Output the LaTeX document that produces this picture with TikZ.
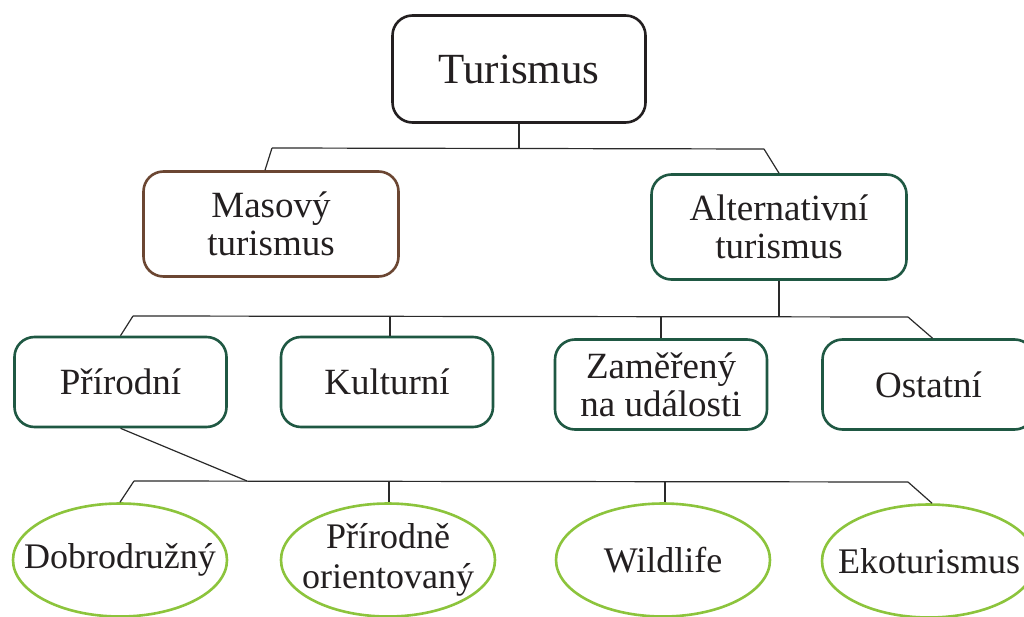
\documentclass[tikz,border=0pt]{standalone}
\usepackage{fontspec}
\setmainfont{Liberation Serif}
\usetikzlibrary{shapes.geometric}
\definecolor{txt}{HTML}{231F20}
\definecolor{boxgreen}{HTML}{1F5843}
\definecolor{boxbrown}{HTML}{6B4632}
\definecolor{ellgreen}{HTML}{8CC43C}
\definecolor{linec}{HTML}{2A2A2A}
\tikzset{
  basebox/.style={draw, line width=2.6pt, rounded corners=20pt, fill=white,
    text=txt, align=center, inner sep=0pt,
    font=\fontsize{37}{38}\selectfont},
  topbox/.style={basebox, draw=txt, minimum width=253pt, minimum height=107pt,
    font=\fontsize{43}{46}\selectfont},
  brownbox/.style={basebox, draw=boxbrown, minimum width=255pt, minimum height=105pt},
  greenbox/.style={basebox, draw=boxgreen, minimum width=255pt, minimum height=105pt},
  smallbox/.style={basebox, draw=boxgreen, minimum width=212pt, minimum height=90pt},
  ellnode/.style={draw=ellgreen, line width=2.6pt, ellipse, fill=white,
    inner sep=0pt, minimum width=214pt, minimum height=113pt},
  elltext/.style={text=txt, align=center, inner sep=0pt,
    font=\fontsize{36}{40}\selectfont}
}
\tikzset{conn/.style={draw=linec, line width=1.2pt}}
\begin{document}
\begin{tikzpicture}[x=1pt,y=-1pt]
\useasboundingbox (0,0) rectangle (1024,617);
\clip (0,0) rectangle (1024,617);
\fill[white] (0,0) rectangle (1024,617);

\coordinate (j1) at (519,148);
\coordinate (j1l) at (272,148);
\coordinate (j1r) at (764,149);
\coordinate (j2) at (779,316);
\coordinate (j2l) at (133,316);
\coordinate (j2r) at (908,317);
\coordinate (j3) at (247,481);
\coordinate (j3l) at (134,481);
\coordinate (j3r) at (908,482);

% level 0
\node[topbox] (top) at (519,69) {Turismus};
% level 1
\node[brownbox] (mas) at (271,224) {Masový\\turismus};
\node[greenbox] (alt) at (779,227) {Alternativní\\turismus};
% level 2
\node[smallbox] (prir) at (120.5,382) {Přírodní};
\node[smallbox] (kult) at (387,382) {Kulturní};
\node[smallbox] (zam) at (661,384.5) {Zaměřený\\na události};
\node[smallbox] (ost) at (928.5,384.5) {Ostatní};
% level 3
\node[ellnode, label={[elltext]center:Dobrodružný}] (dob) at (120,560) {};
\node[ellnode, label={[elltext]center:{Přírodně\\orientovaný}}] (prn) at (388,560) {};
\node[ellnode, label={[elltext]center:Wildlife}] (wild) at (663,560) {};
\node[ellnode, label={[elltext]center:Ekoturismus}] (eko) at (929,561) {};

% connector lines
\draw[conn] (top.south) -- (j1);
\draw[conn] (j1l) -- (j1r);
\draw[conn] (j1l) -- ([xshift=-6pt]mas.north);
\draw[conn] (j1r) -- (alt.north);

\draw[conn] (alt.south) -- (j2);
\draw[conn] (j2l) -- (j2r);
\draw[conn] (j2l) -- (prir.north);
\draw[conn] ([xshift=3pt]kult.north |- j2) -- ([xshift=3pt]kult.north);
\draw[conn] (zam.north |- j2) -- (zam.north);
\draw[conn] (j2r) -- ([xshift=4pt]ost.north);

\draw[conn] (prir.south) -- (j3);
\draw[conn] (j3l) -- (j3r);
\draw[conn] (j3l) -- (dob.north);
\draw[conn] ([xshift=1pt]prn.north |- j3l) -- ([xshift=1pt]prn.north);
\draw[conn] ([xshift=2pt]wild.north |- j3r) -- ([xshift=2pt]wild.north);
\draw[conn] (j3r) -- ([xshift=3pt]eko.north);
\end{tikzpicture}
\end{document}
